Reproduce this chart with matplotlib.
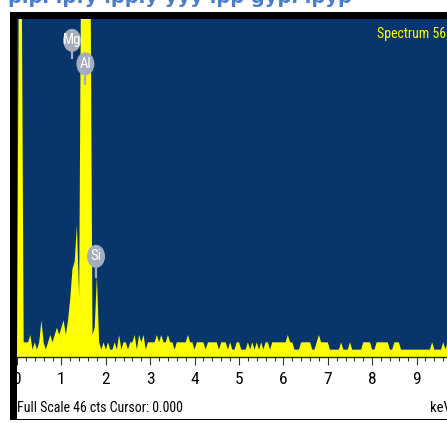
import matplotlib
matplotlib.use("Agg")
import matplotlib.pyplot as plt
from matplotlib.patches import Rectangle, Ellipse
import numpy as np

W, H = 447, 423
DPI = 100

# X-ray counts per 0.05 keV channel, first channel at 0 keV
channel_kev = 0.05
counts = [
    0, 60, 60, 2, 2, 2, 3, 1, 2, 1,
    2, 5, 2, 1, 2, 3, 2, 3, 4, 3,
    4, 5, 3, 5, 8, 12, 13, 18, 8, 60,
    60, 60, 60, 60, 3, 4, 11, 2, 1, 2,
    1, 2, 1, 1, 2, 1, 3, 1, 2, 2,
    1, 2, 2, 3, 1, 3, 2, 3, 1, 2,
    2, 2, 2, 3, 2, 3, 2, 2, 3, 2,
    2, 1, 2, 2, 2, 2, 2, 3, 2, 2,
    1, 2, 2, 2, 2, 1, 2, 2, 2, 2,
    2, 1, 2, 2, 2, 1, 2, 1, 1, 2,
    2, 1, 1, 1, 2, 1, 2, 1, 2, 1,
    2, 1, 2, 2, 1, 2, 2, 2, 2, 2,
    2, 2, 3, 2, 2, 1, 1, 1, 2, 2,
    2, 2, 2, 1, 1, 2, 3, 2, 2, 2,
    2, 1, 1, 1, 1, 1, 2, 1, 1, 1,
    2, 1, 1, 1, 1, 1, 2, 2, 2, 2,
    1, 1, 2, 2, 2, 2, 2, 2, 1, 1,
    2, 2, 2, 1, 1, 1, 1, 1, 1, 1,
    1, 1, 1, 1, 1, 1, 1, 2, 1, 1,
    1, 1, 2, 1, 2,
]
energy = np.arange(len(counts)) * channel_kev

# element markers: label, energy (keV), label height and stem tip (counts)
peak_names = ["Mg", "Al", "Si"]
peak_kev = [1.24, 1.54, 1.78]
label_cts = [43.1, 39.9, 13.7]
stem_tip_cts = [40.6, 37.0, 10.8]

full_scale = 46
x_max = 9.685

NAVY = "#08356a"
YELLOW = "#ffff00"
BUBBLE = "#a5adbd"
NARROW = ["Liberation Sans Narrow", "Roboto Condensed", "Open Sans Condensed",
          "DejaVu Sans Condensed", "Liberation Sans", "DejaVu Sans"]

fig = plt.figure(figsize=(W / DPI, H / DPI), dpi=DPI)
fig.patch.set_facecolor("white")


def fx(px):
    return px / W


def fy(py):
    return 1 - py / H


# black window frame and the white status panel under the spectrum
fig.patches.append(Rectangle((fx(10), fy(420)), fx(460 - 10), (420 - 12) / H,
                             transform=fig.transFigure, facecolor="black",
                             edgecolor="none", zorder=-2))
fig.patches.append(Rectangle((fx(17), fy(419)), fx(460 - 17), (419 - 357) / H,
                             transform=fig.transFigure, facecolor="white",
                             edgecolor="none", zorder=-1))

ax = fig.add_axes([fx(17), fy(357), fx(W - 17), (357 - 19) / H])
ax.set_zorder(1)
ax.set_facecolor(NAVY)
ax.fill_between(energy, 0, counts, color=YELLOW, linewidth=0, zorder=2)
ax.set_xlim(0, x_max)
ax.set_ylim(0, full_scale)

px_per_kev = (W - 17) / x_max
px_per_cnt = (357 - 19) / full_scale
for name, e, ly, tip in zip(peak_names, peak_kev, label_cts, stem_tip_cts):
    ax.plot([e, e], [ly, tip], color=BUBBLE, lw=1.6, zorder=3,
            solid_capstyle="butt")
    ax.add_patch(Ellipse((e, ly), 18 / px_per_kev, 23 / px_per_cnt,
                         facecolor=BUBBLE, edgecolor="none", zorder=4))
    ax.text(e, ly, name, color="white", ha="center", va="center",
            fontsize=10.5, family=NARROW, zorder=5)

ax.text(0.998, 0.955, "Spectrum 56", transform=ax.transAxes, color=YELLOW,
        ha="right", va="center", fontsize=10, family=NARROW)

for s in ["top", "left", "right"]:
    ax.spines[s].set_visible(False)
ax.spines["bottom"].set_color("#222222")
ax.spines["bottom"].set_linewidth(1)
ax.set_yticks([])
ax.set_xticks(range(0, 10))
ax.set_xticks(np.arange(0, 9.7, 0.2), minor=True)
ax.tick_params(axis="x", which="major", direction="out", length=5.5,
               width=0.8, color="#333333", pad=5, labelsize=12.5)
ax.tick_params(axis="x", which="minor", direction="out", length=3,
               width=0.8, color="#333333")
for lab in ax.get_xticklabels():
    lab.set_family(NARROW)

fig.text(fx(17), fy(408), "Full Scale 46 cts Cursor: 0.000", ha="left",
         va="center", fontsize=10, family=NARROW, zorder=3)
fig.text(fx(430), fy(408), "keV", ha="left", va="center", fontsize=10.5,
         family=NARROW, zorder=3)

# heading of the page above the window, only its lowest strokes show
fig.text(fx(8), fy(-3), "pipl ipfy ipply yyy ipp gypl ipyp", color="#4a7fc8",
         ha="left", va="center", fontsize=14, fontweight="bold")

fig.savefig("out.png", dpi=DPI)
